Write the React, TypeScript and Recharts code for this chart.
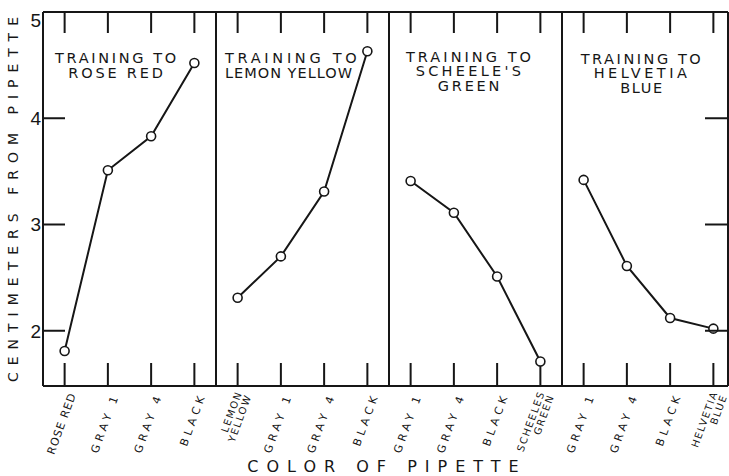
import React from "react";
import { LineChart, Line, XAxis, YAxis, ReferenceLine, Customized } from "recharts";

// Categories and mean distances (cm) for each training colour
const roseRedCategories = ["ROSE RED", "GRAY 1", "GRAY 4", "BLACK"];
const roseRedValues = [1.81, 3.51, 3.83, 4.52];
const lemonYellowCategories = ["LEMON\nYELLOW", "GRAY 1", "GRAY 4", "BLACK"];
const lemonYellowValues = [2.31, 2.7, 3.31, 4.63];
const scheelesGreenCategories = ["GRAY 1", "GRAY 4", "BLACK", "SCHEELES\nGREEN"];
const scheelesGreenValues = [3.41, 3.11, 2.51, 1.71];
const helvetiaBlueCategories = ["GRAY 1", "GRAY 4", "BLACK", "HELVETIA\nBLUE"];
const helvetiaBlueValues = [3.42, 2.61, 2.12, 2.02];

const yTicks = [2, 3, 4, 5];
const yDomain = [1.48, 5];

const panelTitles = [
  ["TRAINING TO", "ROSE RED"],
  ["TRAINING TO", "LEMON YELLOW"],
  ["TRAINING TO", "SCHEELE'S", "GREEN"],
  ["TRAINING TO", "HELVETIA", "BLUE"],
];
const yAxisTitle = "CENTIMETERS FROM PIPETTE";
const xAxisTitle = "COLOR OF PIPETTE";

// ---- layout / style ----
const W = 729;
const H = 476;
const PLOT = { left: 43, top: 12, right: 728, bottom: 386 };
const X_OVERHANG = 7; // category range runs a little past the right frame
const INK = "#161616";
const FONT = "'DejaVu Sans', sans-serif";

const titleLayout = [
  { x: 117, anchor: "middle", y: 63, step: 15, spacing: [2.35, 2.5] },
  { x: 225, anchor: "start", y: 63, step: 15, spacing: [3.4, 0.7] },
  { x: 470, anchor: "middle", y: 61.5, step: 14.5, spacing: [2.75, 3, 2.5] },
  { x: 642, anchor: "middle", y: 63.5, step: 14.5, spacing: [2.25, 3.2, 1.3] },
];

const panels = [
  { categories: roseRedCategories, values: roseRedValues },
  { categories: lemonYellowCategories, values: lemonYellowValues },
  { categories: scheelesGreenCategories, values: scheelesGreenValues },
  { categories: helvetiaBlueCategories, values: helvetiaBlueValues },
];

// One row per slot on the shared x axis; each panel's series is null outside its panel
const rows = panels.flatMap((panel, pi) =>
  panel.categories.map((cat, ci) => {
    const row: Record<string, any> = { slot: `${pi}-${ci}`, label: cat };
    panels.forEach((_, k) => {
      row[`s${k}`] = k === pi ? panel.values[ci] : null;
    });
    return row;
  })
);
const labelBySlot: Record<string, string> = Object.fromEntries(rows.map((r) => [r.slot, r.label]));
const panelStarts = panels.slice(1).map((_, i) => `${i + 1}-0`);

function BottomTick(props: any) {
  const { x, payload } = props;
  const label = labelBySlot[payload.value] ?? "";
  const lines = label.split("\n");
  const cx = Number(x);
  return (
    <g transform={`translate(${cx + (lines.length === 1 ? 8 : 6)},${PLOT.bottom + 7}) rotate(-70)`}>
      {lines.length === 1 ? (
        <text
          textAnchor="end"
          dy="0.35em"
          fontSize={11}
          letterSpacing={lines[0].length > 6 ? 1 : 4}
          fill={INK}
          fontFamily={FONT}
        >
          {lines[0]}
        </text>
      ) : (
        lines.map((l: string, i: number) => (
          <text
            key={i}
            y={i === 0 ? -5 : 5}
            textAnchor="end"
            dy="0.35em"
            fontSize={10}
            letterSpacing={1.5}
            fill={INK}
            fontFamily={FONT}
          >
            {l}
          </text>
        ))
      )}
    </g>
  );
}

// Short inward ticks at both ends of a category's vertical reference line, drawn as thin bars
function FrameTickShape(props: any) {
  const x = Number(props.x1);
  const a = Number(props.y1);
  const b = Number(props.y2);
  if (!Number.isFinite(x) || !Number.isFinite(a) || !Number.isFinite(b)) return <g />;
  const top = Math.min(a, b);
  const bottom = Math.max(a, b);
  return (
    <g>
      <rect x={x - 1} y={top} width={2} height={21} fill={INK} stroke="none" />
      <rect x={x - 1} y={bottom - 23} width={2} height={23} fill={INK} stroke="none" />
    </g>
  );
}

const NoLabel = () => <g />;

function LeftTick(props: any) {
  const { y, payload } = props;
  const labelY = payload.value === 5 ? y + 8 : y;
  return (
    <g>
      <line x1={PLOT.left} y1={y} x2={PLOT.left + 22} y2={y} stroke={INK} strokeWidth={2} />
      <text
        x={PLOT.left - 2}
        y={labelY}
        dy="0.36em"
        textAnchor="end"
        fontSize={19}
        fontFamily="'Liberation Sans', sans-serif"
        fill={INK}
      >
        {payload.value}
      </text>
    </g>
  );
}

function RightTick(props: any) {
  const { y } = props;
  return <line x1={PLOT.right - 23} y1={y} x2={PLOT.right} y2={y} stroke={INK} strokeWidth={2} />;
}

function Annotations() {
  return (
    <g fontFamily={FONT} fill={INK}>
      {panelTitles.map((lines, pi) => {
        const t = titleLayout[pi];
        return lines.map((line, li) => (
          <text
            key={`${pi}-${li}`}
            x={t.x}
            y={t.y + li * t.step}
            textAnchor={t.anchor as any}
            fontSize={14.5}
            letterSpacing={t.spacing[li] + 0.3}
          >
            {line}
          </text>
        ));
      })}
      <text transform="translate(18,196) rotate(-90)" textAnchor="middle" fontSize={14} letterSpacing={7}>
        {yAxisTitle}
      </text>
      <text x={387} y={472} textAnchor="middle" fontSize={16} letterSpacing={8}>
        {xAxisTitle}
      </text>
    </g>
  );
}

const dotStyle = { r: 4.5, stroke: INK, strokeWidth: 1.6, fill: "#ffffff" };

export default function App() {
  return (
    <div style={{ position: "absolute", left: 0, top: 0, width: W, height: H, background: "#fff", overflow: "hidden" }}>
      <LineChart width={W} height={H} data={rows} margin={{ top: 11, right: 0, bottom: 10, left: 13 }}>
        <XAxis
          xAxisId="bottom"
          dataKey="slot"
          type="category"
          scale="band"
          interval={0}
          height={80}
          padding={{ left: 0, right: -X_OVERHANG }}
          tickSize={0}
          tickMargin={0}
          tickLine={false}
          axisLine={{ stroke: INK, strokeWidth: 2 }}
          tick={<BottomTick />}
        />
        <XAxis
          xAxisId="top"
          orientation="top"
          dataKey="slot"
          type="category"
          scale="band"
          interval={0}
          height={1}
          padding={{ left: 0, right: -X_OVERHANG }}
          tickSize={0}
          tickMargin={0}
          tickLine={false}
          axisLine={{ stroke: INK, strokeWidth: 2 }}
          tick={<NoLabel />}
        />
        <YAxis
          yAxisId="left"
          type="number"
          domain={yDomain}
          allowDataOverflow
          ticks={yTicks}
          width={30}
          tickSize={0}
          tickMargin={0}
          tickLine={false}
          axisLine={{ stroke: INK, strokeWidth: 2 }}
          tick={<LeftTick />}
        />
        <YAxis
          yAxisId="right"
          orientation="right"
          type="number"
          domain={yDomain}
          allowDataOverflow
          ticks={yTicks}
          width={1}
          tickSize={0}
          tickMargin={0}
          tickLine={false}
          axisLine={{ stroke: INK, strokeWidth: 2 }}
          tick={<RightTick />}
        />
        {panelStarts.map((slot) => (
          <ReferenceLine
            key={slot}
            x={slot}
            xAxisId="bottom"
            yAxisId="left"
            position="start"
            stroke={INK}
            strokeWidth={2}
          />
        ))}
        {rows.map((r) => (
          <ReferenceLine
            key={`tick-${r.slot}`}
            x={r.slot}
            xAxisId="bottom"
            yAxisId="left"
            position="middle"
            stroke={INK}
            strokeWidth={2}
            shape={FrameTickShape}
          />
        ))}
        {panels.map((_, k) => (
          <Line
            key={k}
            xAxisId="bottom"
            yAxisId="left"
            dataKey={`s${k}`}
            type="linear"
            stroke={INK}
            strokeWidth={2}
            dot={dotStyle}
            activeDot={false}
            isAnimationActive={false}
          />
        ))}
        <Customized component={Annotations} />
      </LineChart>
    </div>
  );
}
